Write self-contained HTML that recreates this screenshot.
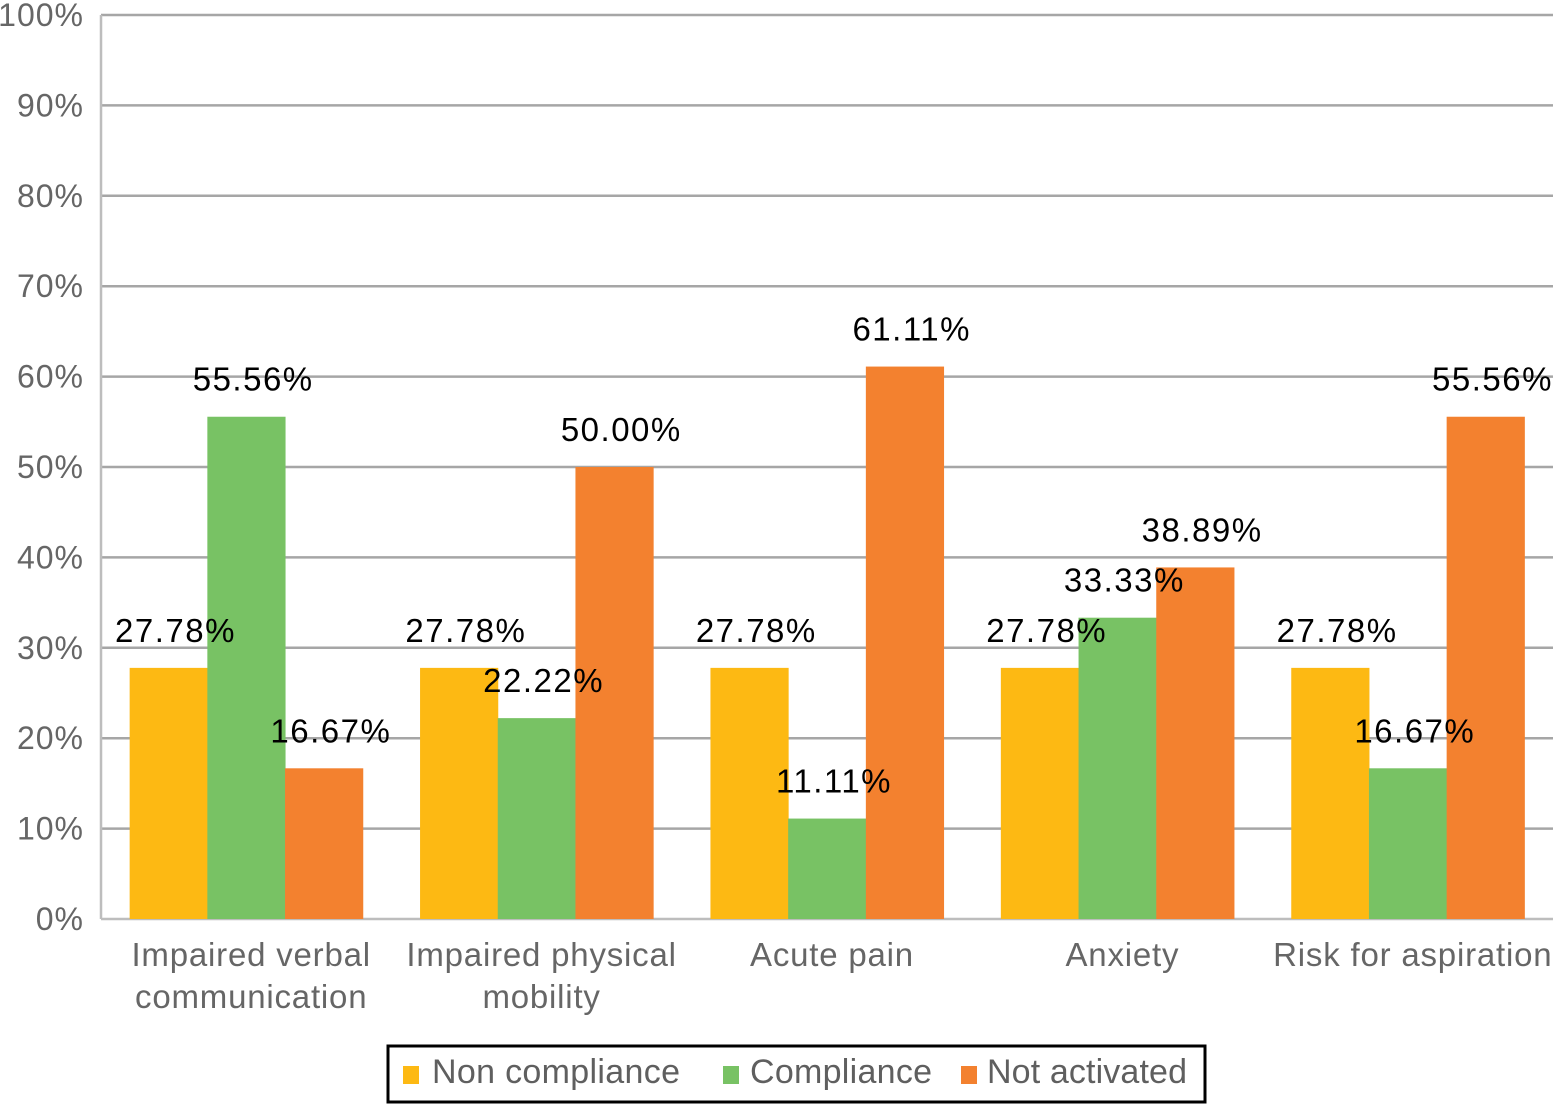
<!DOCTYPE html>
<html><head><meta charset="utf-8"><style>
html,body{margin:0;padding:0;background:#fff;}
svg{display:block;font-family:"Liberation Sans",Arial,sans-serif;}
</style></head><body>
<svg id="chart" width="1555" height="1104" viewBox="0 0 1555 1104" xmlns="http://www.w3.org/2000/svg">
<g id="grid"></g>
<g id="yticks"></g>
<g id="bars"></g>
<g id="vals"></g>
<g id="cats"></g>
<g>
<rect x="388" y="1046" width="817" height="56" fill="#fff" stroke="#000" stroke-width="3"/>
<rect x="403" y="1066" width="16" height="18" fill="#FDB913"/>
<text x="432" y="1083" font-size="34" fill="#5f5f5f" textLength="248">Non compliance</text>
<rect x="723" y="1066" width="16" height="18" fill="#78C264"/>
<text x="750" y="1083" font-size="34" fill="#5f5f5f" textLength="182">Compliance</text>
<rect x="961" y="1066" width="16" height="18" fill="#F3812F"/>
<text x="987" y="1083" font-size="34" fill="#5f5f5f" textLength="200">Not activated</text>
</g>
</svg>
<script>
const categories = [["Impaired verbal","communication"],["Impaired physical","mobility"],["Acute pain"],["Anxiety"],["Risk for aspiration"]];
const nonCompliance = [27.78,27.78,27.78,27.78,27.78];
const compliance = [55.56,22.22,11.11,33.33,16.67];
const notActivated = [16.67,50.00,61.11,38.89,55.56];
const yTicks = [0,10,20,30,40,50,60,70,80,90,100];
const seriesNames = ["non-compliance","compliance","not-activated"];
const colors = ["#FDB913","#78C264","#F3812F"];

const NS="http://www.w3.org/2000/svg";
const L=101,R=1553,T=15,B=919;
const y=v=>B-(v/100)*(B-T);
const gw=(R-L)/categories.length, bw=77.7, pad=(gw-3*bw)/2;
function mk(tag,attrs,parent){const e=document.createElementNS(NS,tag);for(const k in attrs)e.setAttribute(k,attrs[k]);parent.appendChild(e);return e;}
const grid=document.getElementById('grid'),yt=document.getElementById('yticks'),bars=document.getElementById('bars'),vals=document.getElementById('vals'),cats=document.getElementById('cats');
yTicks.forEach(t=>{
  const ln=mk('line',{x1:L,x2:R,y1:y(t),y2:y(t),stroke:t===0?'#bdbdbd':'#a6a6a6','stroke-width':2.5},grid);
  
  
  const tx=mk('text',{x:84,y:y(t)+11,'text-anchor':'end','font-size':32,fill:'#666','letter-spacing':'1'},yt);
  tx.textContent=t+'%';
  
  
});
const ax=mk('line',{x1:L,x2:L,y1:T,y2:B,stroke:'#bdbdbd','stroke-width':2.5},grid);


const series=[nonCompliance,compliance,notActivated];
categories.forEach((c,i)=>{
  series.forEach((s,j)=>{
    const x=L+i*gw+pad+j*bw;
    const r=mk('rect',{x:x,y:y(s[i]),width:bw+0.5,height:B-y(s[i]),fill:colors[j]},bars);
    
    
    const t=mk('text',{x:x+bw/2+7,y:y(s[i])-26,'text-anchor':'middle','font-size':33,fill:'#000','letter-spacing':'1.5'},vals);
    t.textContent=s[i].toFixed(2)+'%';
    
    
  });
  const cx=L+i*gw+gw/2+5;
  c.forEach((line,k)=>{
    const t=mk('text',{x:cx,y:966+k*42,'text-anchor':'middle','font-size':33,fill:'#666','letter-spacing':'0.8'},cats);
    t.textContent=line;
    
    
  });
});
</script>
</body></html>
